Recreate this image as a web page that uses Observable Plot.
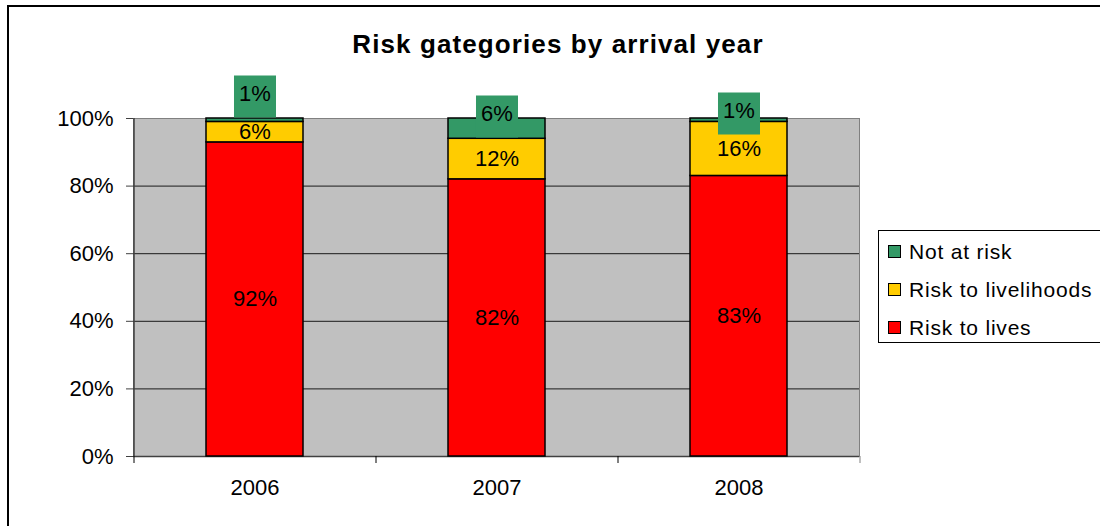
<!DOCTYPE html>
<html>
<head>
<meta charset="utf-8">
<script src="https://cdn.jsdelivr.net/npm/d3@7"></script>
<script src="https://cdn.jsdelivr.net/npm/@observablehq/plot@0.6"></script>
<style>
  html, body { margin: 0; padding: 0; background: #fff; overflow: hidden; }
  body { font-family: "Liberation Sans", Arial, sans-serif; color: #000; }
  #chart { position: relative; width: 1100px; height: 526px; overflow: hidden; }
  #border { position: absolute; left: 7px; top: 5px; width: 1200px; height: 600px;
            border-top: 2px solid #000; border-left: 2px solid #000; }
  #plot { position: absolute; left: 0; top: 0; }
  #title { position: absolute; left: 0; width: 1116px; top: 31px; text-align: center;
           font-weight: bold; font-size: 26px; line-height: 26px; letter-spacing: 1.1px; }
  #legend { position: absolute; left: 878px; top: 230px; width: 260px; height: 113px;
            border: 1px solid #000; background: #fff; box-sizing: border-box; padding-top: 1px; }
  .row { display: flex; align-items: center; height: 38px; font-size: 21px; line-height: 21px; letter-spacing: 0.8px; }
  .sw { width: 11px; height: 11px; border: 1px solid #000; margin-left: 9px; margin-right: 8px; }
</style>
</head>
<body>
<div id="chart">
  <div id="border"></div>
  <div id="plot"></div>
  <div id="title">Risk gategories by arrival year</div>
  <div id="legend"></div>
</div>
<script>
// Share of arrivals in each risk category, per arrival year (percent)
const years = ["2006", "2007", "2008"];
const riskToLives = [92, 82, 83];
const riskToLivelihoods = [6, 12, 16];
const notAtRisk = [1, 6, 1];

// Stacking order, bottom to top, and matching colours
const seriesNames = ["Risk to lives", "Risk to livelihoods", "Not at risk"];
const seriesColors = ["#FF0000", "#FFCC00", "#339966"];
const legendOrder = ["Not at risk", "Risk to livelihoods", "Risk to lives"];
const yTicks = [0, 0.2, 0.4, 0.6, 0.8, 1];

// Long-form table for the stack transform
const seriesValues = [riskToLives, riskToLivelihoods, notAtRisk];
const rows = [];
seriesNames.forEach((s, i) => {
  years.forEach((y, j) => rows.push({year: y, series: s, value: seriesValues[i][j]}));
});

const W = 1100, H = 526, mL = 133, mR = 241, mT = 118, mB = 70;
const step = (W - mL - mR) / years.length;
const FS = 22;

const stackOpts = {x: "year", y: "value", z: "series", order: seriesNames, offset: "normalize"};
const isTop = d => d.series === "Not at risk";

// Labels for the thin top segments sit in a green box lifted above the stack
const lift = {"2006": -22, "2007": -2, "2008": -5};
const topLabelMarks = years.flatMap(yr => [
  Plot.dot(rows, Plot.filter(d => isTop(d) && d.year === yr, Plot.stackY2({
    ...stackOpts, symbol: "square", r: 23.7, fill: "#339966", stroke: null, dy: lift[yr]
  }))),
  Plot.text(rows, Plot.filter(d => isTop(d) && d.year === yr, Plot.stackY2({
    ...stackOpts, text: d => d.value + "%", fill: "#000", fontSize: FS, dy: lift[yr] - 2.5
  })))
]);

const chart = Plot.plot({
  width: W, height: H,
  marginLeft: mL, marginRight: mR, marginTop: mT, marginBottom: mB,
  style: {fontFamily: "'Liberation Sans', Arial, sans-serif", fontSize: FS + "px", color: "#000", background: "transparent", overflow: "visible"},
  x: {domain: years, paddingInner: 0.6, paddingOuter: 0.3, axis: null},
  y: {domain: [0, 1], axis: null},
  color: {domain: seriesNames, range: seriesColors},
  marks: [
    Plot.frame({fill: "#C0C0C0", stroke: "#808080"}),
    Plot.ruleY(yTicks.slice(1, -1), {stroke: "#1a1a1a", strokeWidth: 1}),
    // left axis line and category boundary ticks
    Plot.ruleX([years[0]], {x: d => d, dx: -step / 2, y1: 0, y2: 1, stroke: "#404040", strokeWidth: 1.5}),
    Plot.ruleY([0], {stroke: "#404040", strokeWidth: 1.5}),
    Plot.ruleX(years, {x: d => d, dx: -step / 2, y1: 0, y2: 0, insetBottom: -7, stroke: "#000"}),
    Plot.ruleX([years[years.length - 1]], {x: d => d, dx: step / 2, y1: 0, y2: 0, insetBottom: -7, stroke: "#808080"}),
    Plot.axisY({ticks: yTicks, tickFormat: d3.format(".0%"), tickSize: 7, tickPadding: 13, fontSize: FS, stroke: "#404040", label: null}),
    Plot.axisX({tickSize: 0, tickPadding: 23, fontSize: FS, label: null}),
    Plot.barY(rows, Plot.stackY({...stackOpts, fill: "series", stroke: "#000", strokeWidth: 1.5})),
    Plot.text(rows, Plot.filter(d => !isTop(d), Plot.stackY({...stackOpts, text: d => d.value + "%", fill: "#000", fontSize: FS}))),
    ...topLabelMarks
  ]
});
document.getElementById("plot").appendChild(chart);

// Legend
const legend = d3.select("#legend");
legendOrder.forEach(name => {
  const row = legend.append("div").attr("class", "row");
  row.append("div").attr("class", "sw").style("background", seriesColors[seriesNames.indexOf(name)]);
  row.append("span").text(name);
});
</script>
</body>
</html>
